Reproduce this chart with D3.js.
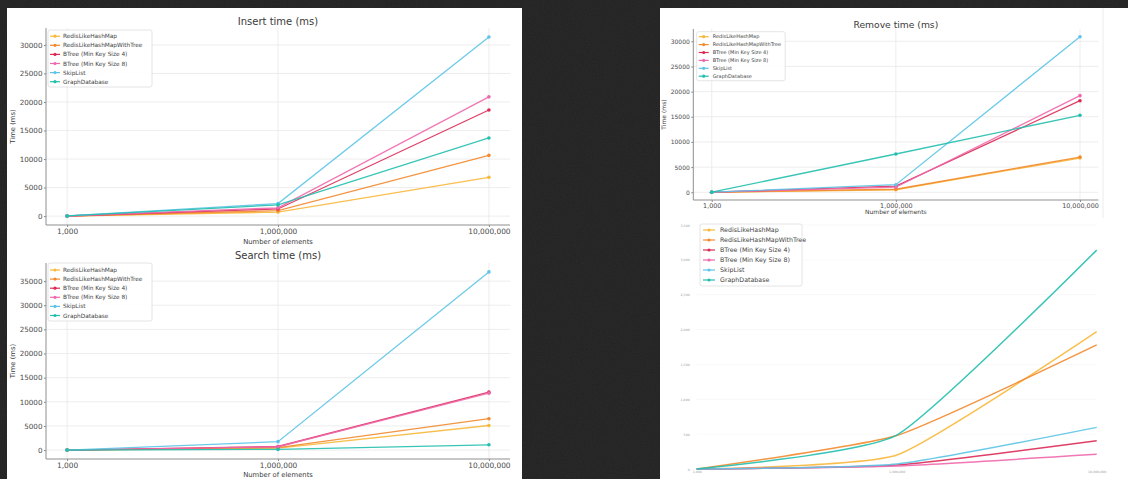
<!DOCTYPE html>
<html>
<head>
<meta charset="utf-8">
<script src="https://cdn.jsdelivr.net/npm/d3@7"></script>
<style>
  html, body { margin: 0; padding: 0; background: #232323; }
  svg { display: block; }
  text { font-family: "DejaVu Sans", sans-serif; }
</style>
</head>
<body>
<svg id="board" width="1128" height="479"></svg>
<script>
// ---- data ----
const elementCounts = ["1,000", "1,000,000", "10,000,000"];
const seriesNames = [
  "RedisLikeHashMap",
  "RedisLikeHashMapWithTree",
  "BTree (Min Key Size 4)",
  "BTree (Min Key Size 8)",
  "SkipList",
  "GraphDatabase"
];
const seriesColors = ["#f8b83a", "#f28a2e", "#dc2a55", "#ee68ac", "#5cc4e6", "#22bfae"];

// rows follow seriesNames, columns follow elementCounts
const insertTimes = [
  [10, 700, 6800],
  [15, 950, 10650],
  [20, 1250, 18600],
  [20, 1450, 20900],
  [25, 2200, 31400],
  [30, 1950, 13700]
];
const searchTimes = [
  [5, 400, 5100],
  [8, 500, 6500],
  [10, 750, 12000],
  [10, 700, 11800],
  [15, 1750, 36900],
  [10, 150, 1100]
];
const removeTimes = [
  [5, 500, 6800],
  [5, 600, 7000],
  [10, 1200, 18200],
  [10, 1000, 19200],
  [15, 1500, 30900],
  [20, 7600, 15300]
];
const smoothValues = [
  [0, 200, 1970],
  [0, 480, 1780],
  [0, 57, 405],
  [0, 43, 210],
  [0, 72, 597],
  [0, 487, 3140]
];

const insertTicks = [0, 5000, 10000, 15000, 20000, 25000, 30000];
const searchTicks = [0, 5000, 10000, 15000, 20000, 25000, 30000, 35000];
const removeTicks = [0, 5000, 10000, 15000, 20000, 25000, 30000];
const smoothTicks = [0, 500, 1000, 1500, 2000, 2500, 3000, 3500];

// ---- page ----
const svg = d3.select("#board");

const defs = svg.append("defs");
const noise = defs.append("filter").attr("id", "grain").attr("x", 0).attr("y", 0).attr("width", 1).attr("height", 1);
noise.append("feTurbulence").attr("type", "fractalNoise").attr("baseFrequency", 0.9).attr("numOctaves", 2).attr("seed", 3);
noise.append("feColorMatrix").attr("type", "saturate").attr("values", 0);

svg.append("rect").attr("width", 1128).attr("height", 479).attr("fill", "#222222");
svg.append("rect").attr("width", 1128).attr("height", 479).attr("filter", "url(#grain)").attr("opacity", 0.06);

// white slides
svg.append("rect").attr("x", 7).attr("y", 8).attr("width", 515).attr("height", 471).attr("fill", "#ffffff");
svg.append("rect").attr("x", 660).attr("y", 8).attr("width", 468).attr("height", 471).attr("fill", "#ffffff");
svg.append("line").attr("x1", 1103).attr("x2", 1103).attr("y1", 8).attr("y2", 218)
  .attr("stroke", "#ececec").attr("stroke-width", 1);

// ---- matplotlib-style line chart ----
function drawChart(o) {
  const g = svg.append("g");
  const all = o.data.flat();
  const lo = d3.min(all), hi = d3.max(all), span = hi - lo;
  const x = d3.scaleLinear().domain([-0.1, 2.1]).range([o.left, o.right]);
  const y = d3.scaleLinear().domain([lo - 0.05 * span, hi + 0.05 * span]).range([o.bottom, o.top]);

  // grid
  g.append("g").selectAll("line").data(o.ticks).join("line")
    .attr("x1", o.left).attr("x2", o.right)
    .attr("y1", d => y(d)).attr("y2", d => y(d))
    .attr("stroke", "#e9e9e9").attr("stroke-width", 0.8);
  g.append("g").selectAll("line").data(elementCounts.map((d, i) => i)).join("line")
    .attr("x1", d => x(d)).attr("x2", d => x(d))
    .attr("y1", o.top).attr("y2", o.bottom)
    .attr("stroke", "#e9e9e9").attr("stroke-width", 0.8);

  // axes
  const ya = g.append("g").attr("transform", `translate(${o.left},0)`)
    .call(d3.axisLeft(y).tickValues(o.ticks).tickFormat(d3.format("d")).tickSize(2).tickPadding(1.5));
  const xa = g.append("g").attr("transform", `translate(0,${o.bottom})`)
    .call(d3.axisBottom(x).tickValues([0, 1, 2]).tickFormat(i => elementCounts[i]).tickSize(2).tickPadding(1.5));
  [ya, xa].forEach(a => {
    a.select(".domain").remove();
    a.selectAll(".tick line").attr("stroke", "#888");
    a.selectAll(".tick text").attr("fill", "#4a4a4a");
  });
  ya.selectAll(".tick text").style("font-size", o.yTickFont + "px");
  xa.selectAll(".tick text").style("font-size", o.xTickFont + "px");

  // spines
  g.append("line").attr("x1", o.left).attr("x2", o.left).attr("y1", o.top).attr("y2", o.bottom)
    .attr("stroke", "#8f8f8f").attr("stroke-width", 1);
  g.append("line").attr("x1", o.left).attr("x2", o.right).attr("y1", o.bottom).attr("y2", o.bottom)
    .attr("stroke", "#8f8f8f").attr("stroke-width", 1);

  // series
  const line = d3.line().x((d, i) => x(i)).y(d => y(d));
  o.data.forEach((row, s) => {
    g.append("path").attr("d", line(row)).attr("fill", "none")
      .attr("stroke", seriesColors[s]).attr("stroke-width", 1.3).attr("stroke-opacity", 0.9);
    g.append("g").selectAll("circle").data(row).join("circle")
      .attr("cx", (d, i) => x(i)).attr("cy", d => y(d)).attr("r", 1.8)
      .attr("fill", seriesColors[s]);
  });

  // labels
  g.append("text").attr("x", (o.left + o.right) / 2).attr("y", o.titleY)
    .attr("text-anchor", "middle").attr("fill", "#3a3a3a").style("font-size", o.titleFont + "px").text(o.title);
  g.append("text").attr("x", (o.left + o.right) / 2).attr("y", o.xLabelY)
    .attr("text-anchor", "middle").attr("fill", "#3a3a3a").style("font-size", o.labelFont + "px").text("Number of elements");
  g.append("text").attr("transform", `translate(${o.yLabelX},${(o.top + o.bottom) / 2}) rotate(-90)`)
    .attr("text-anchor", "middle").attr("fill", "#3a3a3a").style("font-size", o.labelFont + "px").text("Time (ms)");

  drawLegend(g, o.legend);
}

function drawLegend(g, L) {
  const lg = g.append("g");
  lg.append("rect").attr("x", L.x).attr("y", L.y).attr("width", L.w).attr("height", L.h).attr("rx", 2)
    .attr("fill", "#ffffff").attr("fill-opacity", 0.85).attr("stroke", "#dddddd").attr("stroke-width", 0.8);
  seriesNames.forEach((name, s) => {
    const cy = L.y + L.first + s * L.step;
    lg.append("line").attr("x1", L.x + L.h0).attr("x2", L.x + L.h1).attr("y1", cy).attr("y2", cy)
      .attr("stroke", seriesColors[s]).attr("stroke-width", 1.2);
    lg.append("circle").attr("cx", L.x + (L.h0 + L.h1) / 2).attr("cy", cy).attr("r", 1.6).attr("fill", seriesColors[s]);
    lg.append("text").attr("x", L.x + L.tx).attr("y", cy).attr("dy", "0.35em")
      .attr("fill", "#444").style("font-size", L.font + "px").text(name);
  });
}

drawChart({
  title: "Insert time (ms)", data: insertTimes, ticks: insertTicks,
  left: 46, right: 510, top: 28, bottom: 225,
  titleY: 24.5, titleFont: 10, xLabelY: 243.5, yLabelX: 15, labelFont: 6.8,
  yTickFont: 7.2, xTickFont: 7.4,
  legend: { x: 48, y: 30, w: 104, h: 57, first: 6.2, step: 9.1, h0: 2, h1: 12, tx: 15, font: 5.8 }
});

drawChart({
  title: "Search time (ms)", data: searchTimes, ticks: searchTicks,
  left: 46, right: 510, top: 263, bottom: 459,
  titleY: 258.5, titleFont: 10, xLabelY: 476.5, yLabelX: 15, labelFont: 6.8,
  yTickFont: 7.2, xTickFont: 7.4,
  legend: { x: 48, y: 263, w: 104, h: 58, first: 7, step: 9.1, h0: 2, h1: 12, tx: 15, font: 5.8 }
});

drawChart({
  title: "Remove time (ms)", data: removeTimes, ticks: removeTicks,
  left: 693.3, right: 1098.4, top: 29, bottom: 200,
  titleY: 27.5, titleFont: 9.2, xLabelY: 214, yLabelX: 666, labelFont: 6,
  yTickFont: 6, xTickFont: 6.4,
  legend: { x: 696.7, y: 31.7, w: 88.5, h: 49, first: 5, step: 7.9, h0: 2, h1: 12, tx: 16, font: 5 }
});

// ---- smoothed chart without spines ----
(function () {
  const g = svg.append("g");
  const left = 696.7, right = 1096.7, top = 225, bottom = 469;
  const x = d3.scalePoint().domain(elementCounts).range([left, right]);
  const y = d3.scaleLinear().domain([0, d3.max(smoothTicks)]).range([bottom, top]);

  g.append("g").selectAll("line").data(smoothTicks.slice(1)).join("line")
    .attr("x1", left).attr("x2", right).attr("y1", d => y(d)).attr("y2", d => y(d))
    .attr("stroke", "#f3f3f3").attr("stroke-width", 0.6);

  const ya = g.append("g").attr("transform", `translate(${left - 7},0)`)
    .call(d3.axisLeft(y).tickValues(smoothTicks).tickSize(0).tickPadding(0));
  const xa = g.append("g").attr("transform", `translate(0,${bottom + 2})`)
    .call(d3.axisBottom(x).tickSize(0).tickPadding(0));
  [ya, xa].forEach(a => {
    a.select(".domain").remove();
    a.selectAll(".tick text").attr("fill", "#9a9a9a").style("font-size", "3.2px");
  });

  const line = d3.line().x((d, i) => x(elementCounts[i])).y(d => y(d)).curve(d3.curveCardinal.tension(0.5));
  smoothValues.forEach((row, s) => {
    g.append("path").attr("d", line(row)).attr("fill", "none")
      .attr("stroke", seriesColors[s]).attr("stroke-width", 1.5).attr("stroke-opacity", 0.9);
  });

  drawLegend(g, { x: 700, y: 224, w: 102, h: 62, first: 6, step: 10, h0: 3, h1: 15, tx: 20, font: 6.3 });
})();
</script>
</body>
</html>
